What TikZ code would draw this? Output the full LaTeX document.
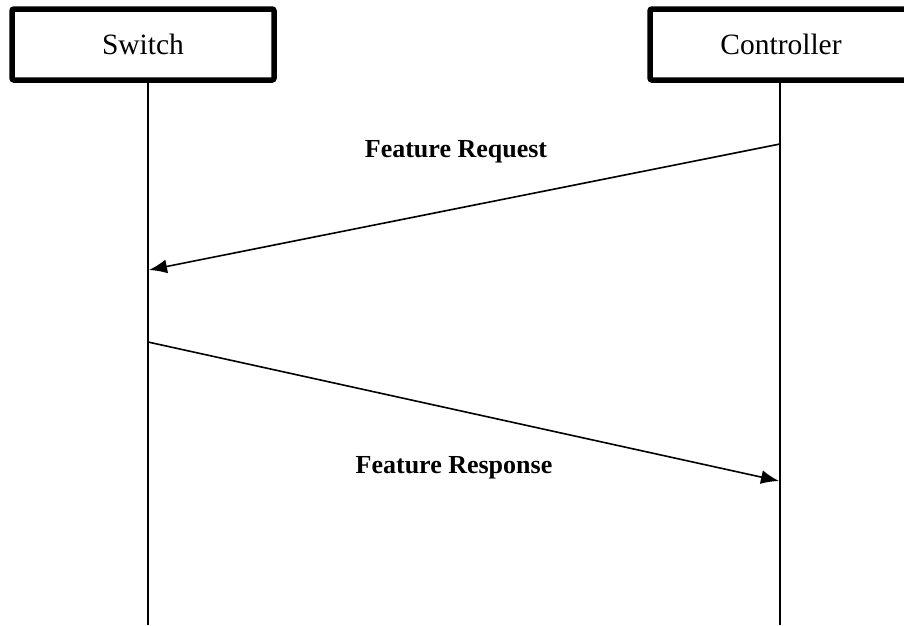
\documentclass[tikz,border=0pt]{standalone}
\usepackage{fontspec}
\setmainfont{Liberation Serif}
\usetikzlibrary{arrows.meta,positioning}

\begin{document}
\begin{tikzpicture}[x=1pt, y=-1pt,
  >={Latex[length=18pt,width=14pt]},
  every node/.append style={align=center},
  actor/.style={draw, line width=5.5pt, rounded corners=2pt, minimum width=262pt,
    minimum height=71pt, inner sep=0pt, font=\fontsize{29.5}{34}\selectfont},
  life/.style={line width=1.6pt},
  msg/.style={->, line width=1.6pt},
  lbl/.style={font=\fontsize{26}{30}\selectfont\bfseries}]
 \useasboundingbox (0,0) rectangle (904,625);
 \node [actor] (SW) at (143,44.5) {Switch};
 \node [actor] (CT) at (781,44.5) {Controller};
 % lifelines
 \coordinate (swtop) at (148,80);
 \coordinate (swbot) at (148,625);
 \coordinate (cttop) at (780,80);
 \coordinate (ctbot) at (780,625);
 \draw[life] (swtop) -- (swbot);
 \draw[life] (cttop) -- (ctbot);
 % messages
 \coordinate (reqA) at (780,144);
 \coordinate (reqB) at (149,270);
 \coordinate (resA) at (148,342);
 \coordinate (resB) at (779,481);
 \draw[msg] (reqA) -- (reqB);
 \draw[msg] (resA) -- (resB);
 \node [lbl] (req) at (456,152) {Feature Request};
 \node [lbl] (res) at (454,468) {Feature Response};
\end{tikzpicture}
\end{document}
